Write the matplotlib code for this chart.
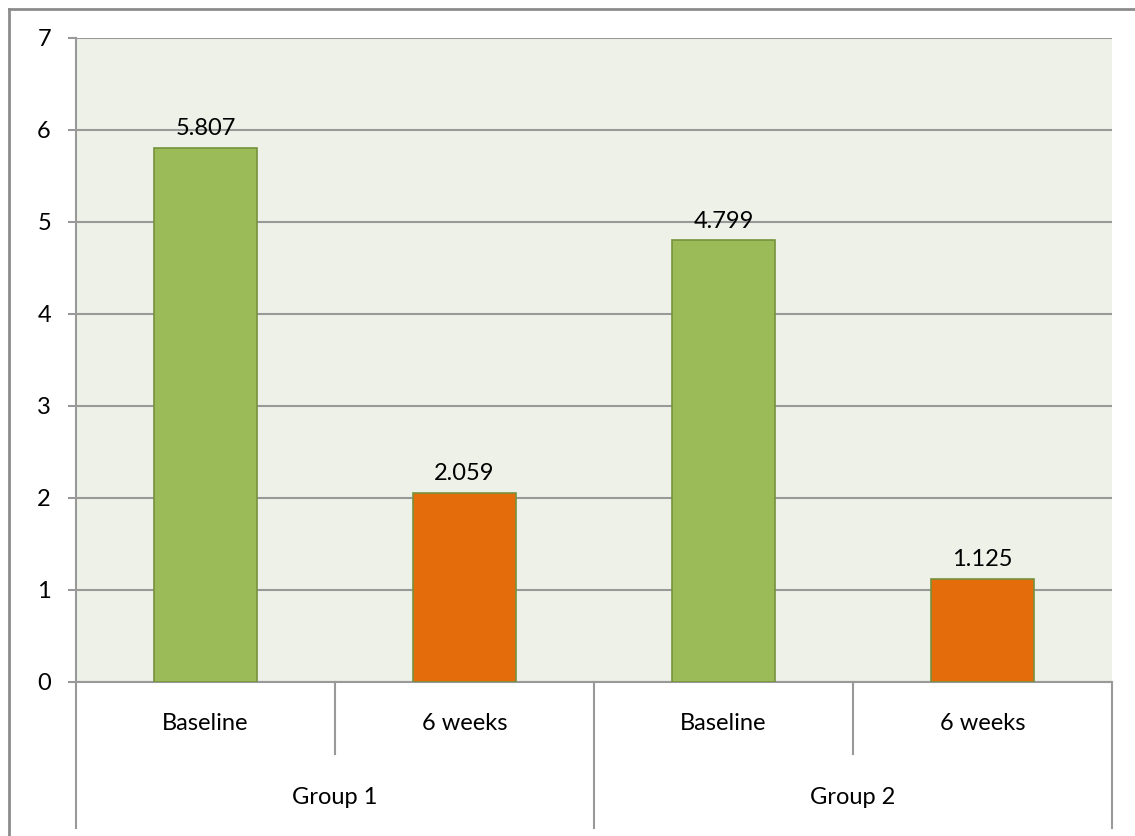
import matplotlib.pyplot as plt
import numpy as np

# Values shown above each bar
groups = ["Group 1", "Group 2"]
timepoints = ["Baseline", "6 weeks"]
values = [5.807, 2.059, 4.799, 1.125]
bar_colors = ["#9BBB59", "#E46C0A", "#9BBB59", "#E46C0A"]

W, H = 1135, 836
fig = plt.figure(figsize=(W / 100, H / 100), dpi=100)
plt.rcParams['font.family'] = ['Lato', 'DejaVu Sans']
fs = 17

# plot area in pixel coordinates
left, right, top, bottom = 76, 1112, 38, 682
ax = fig.add_axes([left / W, 1 - bottom / H, (right - left) / W, (bottom - top) / H])
ax.set_facecolor("#EEF1E8")

x = np.arange(len(values))
ax.bar(x, values, width=0.4, color=bar_colors, edgecolor="#76923C", linewidth=1.2, zorder=3)

for xi, v in zip(x, values):
    ax.annotate(f"{v:.3f}", xy=(xi, v), xytext=(0, 6), textcoords="offset points",
                ha="center", va="bottom", fontsize=fs, color="black")

ax.set_xlim(-0.5, len(values) - 0.5)
ax.set_ylim(0, 7)
ax.set_yticks(range(0, 8))
ax.yaxis.grid(True, color="#999999", linewidth=1.5, zorder=0)
ax.set_axisbelow(True)
ax.tick_params(axis="y", length=6, width=1.5, color="#999999", pad=12, labelsize=fs)
ax.set_xticks([])
for s in ["top", "right"]:
    ax.spines[s].set_visible(False)
for s in ["left", "bottom"]:
    ax.spines[s].set_color("#999999")
    ax.spines[s].set_linewidth(1.5)

# two-level category axis below the plot
ph = bottom - top
y_sub = -(754 - bottom) / ph
y_grp = -(828 - bottom) / ph
trans = ax.get_xaxis_transform()
for xd in [-0.5, 1.5, 3.5]:
    ax.plot([xd, xd], [0, y_grp], transform=trans, color="#999999", lw=1.5, clip_on=False)
for xd in [0.5, 2.5]:
    ax.plot([xd, xd], [0, y_sub], transform=trans, color="#999999", lw=1.5, clip_on=False)

for i, xi in enumerate(x):
    ax.text(xi, -(724 - bottom) / ph, timepoints[i % 2], transform=trans,
            ha="center", va="center", fontsize=fs)
for g, name in enumerate(groups):
    ax.text(2 * g + 0.5, -(798 - bottom) / ph, name, transform=trans,
            ha="center", va="center", fontsize=fs)

# chart border
fig.add_artist(plt.Line2D([9 / W, 9 / W], [1 - 9 / H, 0], color="#8C8C8C", lw=2))
fig.add_artist(plt.Line2D([9 / W, 1], [1 - 9 / H, 1 - 9 / H], color="#8C8C8C", lw=2))

fig.savefig("out.png", dpi=100, facecolor="white")
